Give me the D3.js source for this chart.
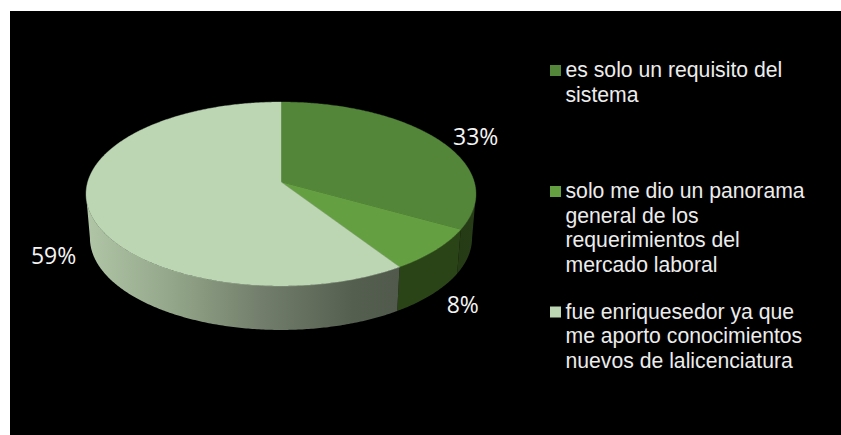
<!DOCTYPE html>
<html>
<head>
<meta charset="utf-8">
<script src="https://cdnjs.cloudflare.com/ajax/libs/d3/7.8.5/d3.min.js"></script>
<style>
html,body{margin:0;padding:0;background:#fff;overflow:hidden}
svg{display:block}
</style>
</head>
<body>
<svg id="chart" width="841" height="435"></svg>
<script>
const categories = [
  ["es solo un requisito del", "sistema"],
  ["solo me dio un panorama", "general de los", "requerimientos del", "mercado laboral"],
  ["fue enriquesedor ya que", "me aporto conocimientos", "nuevos de lalicenciatura"]
];
const values = [33.2, 7.6, 59.2];
const tickLabels = ["33%", "8%", "59%"];
const topColors = ["#54863a", "#64a041", "#bcd5b2"];

const W = 841, H = 435;
const svg = d3.select("#chart");
svg.append("rect").attr("x", 10).attr("y", 11).attr("width", W - 10).attr("height", H - 11).attr("fill", "#000");

// Tilted-disc projection: the apex sits behind the ellipse centre, as in a perspective 3D pie.
const apex = {x: 281, y: 182};
const persp = 0.1304, ampX = 193.3, ampY = 90.4, depth = 44, baseShrink = 0.98;
const project = (a, base) => {
  const u = Math.sin(a), v = Math.cos(a), w = 1 + persp * v;
  const s = base ? baseShrink : 1;
  return [apex.x + s * ampX * u / w, apex.y - ampY * v / w + (base ? depth : 0)];
};
const pie = d3.pie().sort(null).startAngle(0).endAngle(2 * Math.PI);
const arcs = pie(values);
const rim = (a0, a1, base) => {
  const n = Math.max(2, Math.ceil((a1 - a0) / 0.01));
  return d3.range(n + 1).map(i => project(a0 + (a1 - a0) * i / n, base));
};
const line = d3.line().curve(d3.curveLinear);

// The wall is only visible between the two silhouette angles of the projected disc.
const frontStart = Math.acos(-persp), frontEnd = 2 * Math.PI - frontStart;

const defs = svg.append("defs");
const sideStops = [
  [[0, "#223616"], [1, "#263c16"]],
  [[0, "#2a4317"], [1, "#2a4317"]],
  [[0, "#b0c4a6"], [0.27, "#93a689"], [0.55, "#737f6c"], [0.85, "#555f50"], [1, "#50594b"]]
];
sideStops.forEach((stops, i) => {
  const g = defs.append("linearGradient").attr("id", "side" + i)
    .attr("gradientUnits", "userSpaceOnUse")
    .attr("x1", i === 2 ? 88 : 400).attr("x2", i === 2 ? 400 : 475).attr("y1", 0).attr("y2", 0);
  g.selectAll("stop").data(stops).join("stop")
    .attr("offset", d => d[0]).attr("stop-color", d => d[1]);
});

// Side walls first, then top faces over them.
svg.append("g").selectAll("path").data(arcs).join("path")
  .attr("d", d => {
    const a0 = Math.max(d.startAngle, frontStart), a1 = Math.min(d.endAngle, frontEnd);
    return line(rim(a0, a1, false).concat(rim(a0, a1, true).reverse())) + "Z";
  })
  .attr("fill", (d, i) => `url(#side${i})`);

svg.append("g").selectAll("path").data(arcs).join("path")
  .attr("d", d => line([[apex.x, apex.y]].concat(rim(d.startAngle, d.endAngle, false))) + "Z")
  .attr("fill", (d, i) => topColors[i])
  .attr("stroke", (d, i) => topColors[i]).attr("stroke-width", 0.4);

// Percent labels, anchored to the rim at each slice's mid angle.
const labelOffsets = [[38, 6], [27, 63], [-35, 55]];
svg.append("g").selectAll("text").data(arcs).join("text")
  .attr("x", (d, i) => project((d.startAngle + d.endAngle) / 2, false)[0] + labelOffsets[i][0])
  .attr("y", (d, i) => project((d.startAngle + d.endAngle) / 2, false)[1] + labelOffsets[i][1])
  .attr("text-anchor", "middle")
  .attr("font-family", "'Open Sans'")
  .attr("font-size", 23)
  .attr("fill", "#f4f4f4")
  .text((d, i) => tickLabels[i]);

// Legend
const legendY = [77, 198, 318.5];
const lineH = 24.5;
const legend = svg.append("g").selectAll("g").data(categories).join("g");
legend.append("rect")
  .attr("x", 550).attr("y", (d, i) => legendY[i] - 12)
  .attr("width", 11).attr("height", 11)
  .attr("fill", (d, i) => topColors[i]);
legend.each(function(lines, i) {
  d3.select(this).selectAll("text").data(lines).join("text")
    .attr("x", 565.5).attr("y", (d, j) => legendY[i] + j * lineH)
    .attr("font-family", "'Liberation Sans'")
    .attr("font-size", 21.2)
    .attr("fill", "#ececec")
    .text(d => d);
});
</script>
</body>
</html>
